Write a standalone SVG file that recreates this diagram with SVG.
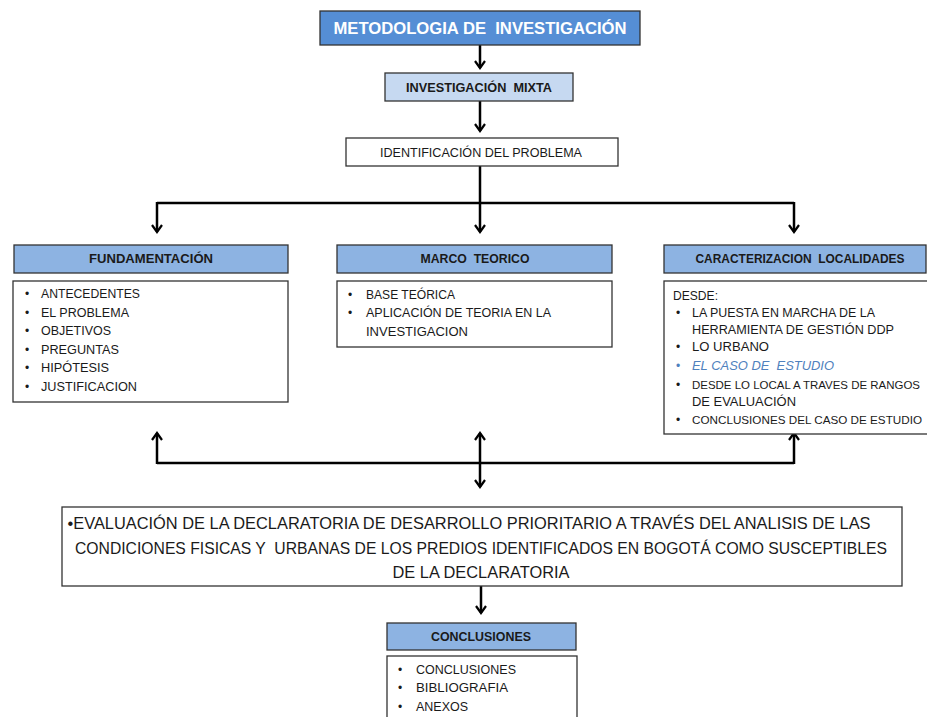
<svg xmlns="http://www.w3.org/2000/svg" width="927" height="717" viewBox="0 0 927 717">
<defs>
<marker id="ah" viewBox="0 0 12 12" refX="10" refY="6" markerWidth="12" markerHeight="12" markerUnits="userSpaceOnUse" orient="auto">
<path d="M3,1 L10,6 L3,11" fill="none" stroke="#000" stroke-width="2.2"/>
</marker>
<style>
text{font-family:"Liberation Sans",Arial,sans-serif;fill:#1a1a1a}
.box{fill:#fff;stroke:#333;stroke-width:1.3}
.hd{fill:#8db3e2;stroke:#333;stroke-width:1.3}
.hdt{font-size:12px;font-weight:bold;text-anchor:middle}
.li{font-size:12px}
.c{stroke:#000;stroke-width:2.5;fill:none}
.ca{stroke:#000;stroke-width:2.5;fill:none;marker-end:url(#ah)}
</style>
</defs>
<g id="connectors">
<line class="ca" x1="480" y1="45" x2="480" y2="68"/>
<line class="ca" x1="480" y1="101" x2="480" y2="131"/>
<polyline class="c" points="480,166 480,203"/>
<polyline class="c" points="157,203 794,203"/>
<line class="ca" x1="157" y1="202" x2="157" y2="232"/>
<line class="ca" x1="480" y1="202" x2="480" y2="232"/>
<line class="ca" x1="794" y1="202" x2="794" y2="232"/>
<polyline class="c" points="157,463 794,463"/>
<line class="ca" x1="157" y1="464" x2="157" y2="433"/>
<line class="ca" x1="794" y1="464" x2="794" y2="433"/>
<line class="ca" x1="480" y1="460" x2="480" y2="433"/>
<line class="ca" x1="480" y1="460" x2="480" y2="487"/>
<line class="ca" x1="481" y1="586" x2="481" y2="613"/>
</g>
<g id="metodologia">
<rect x="320" y="11" width="320" height="34" fill="#558ed5" stroke="#333" stroke-width="1.3"/>
<text x="480" y="34" text-anchor="middle" font-size="17" font-weight="bold" style="fill:#fff" textLength="293" lengthAdjust="spacingAndGlyphs" xml:space="preserve">METODOLOGIA DE  INVESTIGACIÓN</text>
</g>
<g id="mixta">
<rect x="385" y="73" width="188" height="28" fill="#c6d9f1" stroke="#333" stroke-width="1.3"/>
<text x="479" y="92" class="hdt" textLength="146" lengthAdjust="spacingAndGlyphs" xml:space="preserve">INVESTIGACIÓN  MIXTA</text>
</g>
<g id="identificacion">
<rect class="box" x="346" y="138" width="272" height="28"/>
<text x="481" y="157" text-anchor="middle" class="li" textLength="202" lengthAdjust="spacingAndGlyphs">IDENTIFICACIÓN DEL PROBLEMA</text>
</g>
<g id="fundamentacion">
<rect class="hd" x="14" y="245" width="274" height="28"/>
<text x="151" y="263" class="hdt" textLength="124" lengthAdjust="spacingAndGlyphs">FUNDAMENTACIÓN</text>
<rect class="box" x="13" y="281" width="275" height="121"/>
<g class="li">
<text x="25" y="298">•</text><text x="41" y="298" textLength="99" lengthAdjust="spacingAndGlyphs">ANTECEDENTES</text>
<text x="25" y="317">•</text><text x="41" y="317" textLength="88" lengthAdjust="spacingAndGlyphs">EL PROBLEMA</text>
<text x="25" y="335">•</text><text x="41" y="335" textLength="70" lengthAdjust="spacingAndGlyphs">OBJETIVOS</text>
<text x="25" y="354">•</text><text x="41" y="354" textLength="78" lengthAdjust="spacingAndGlyphs">PREGUNTAS</text>
<text x="25" y="372">•</text><text x="41" y="372" textLength="68" lengthAdjust="spacingAndGlyphs">HIPÓTESIS</text>
<text x="25" y="391">•</text><text x="41" y="391" textLength="96" lengthAdjust="spacingAndGlyphs">JUSTIFICACION</text>
</g>
</g>
<g id="marco">
<rect class="hd" x="337" y="245" width="275" height="28"/>
<text x="475" y="263" class="hdt" textLength="109" lengthAdjust="spacingAndGlyphs" xml:space="preserve">MARCO  TEORICO</text>
<rect class="box" x="337" y="281" width="275" height="66"/>
<g class="li">
<text x="348" y="299">•</text><text x="366" y="299" textLength="89" lengthAdjust="spacingAndGlyphs">BASE TEÓRICA</text>
<text x="348" y="317">•</text><text x="366" y="317" textLength="185" lengthAdjust="spacingAndGlyphs">APLICACIÓN DE TEORIA EN LA</text>
<text x="366" y="336" textLength="102" lengthAdjust="spacingAndGlyphs">INVESTIGACION</text>
</g>
</g>
<g id="caracterizacion">
<rect class="hd" x="664" y="245" width="262" height="28"/>
<text x="800" y="263" class="hdt" textLength="209" lengthAdjust="spacingAndGlyphs" xml:space="preserve">CARACTERIZACION  LOCALIDADES</text>
<rect class="box" x="664" y="281" width="275" height="153"/>
<g class="li">
<text x="673" y="300" textLength="45" lengthAdjust="spacingAndGlyphs">DESDE:</text>
<text x="676" y="317">•</text><text x="692" y="317" textLength="183" lengthAdjust="spacingAndGlyphs">LA PUESTA EN MARCHA DE LA</text>
<text x="692" y="334" textLength="202" lengthAdjust="spacingAndGlyphs">HERRAMIENTA DE GESTIÓN DDP</text>
<text x="676" y="351">•</text><text x="692" y="351" textLength="77" lengthAdjust="spacingAndGlyphs">LO URBANO</text>
<text x="676" y="370" style="fill:#4f81bd">•</text><text x="692" y="370" font-style="italic" style="fill:#4f81bd" textLength="142" lengthAdjust="spacingAndGlyphs" xml:space="preserve">EL CASO DE  ESTUDIO</text>
<text x="676" y="389">•</text><text x="692" y="389" font-size="11" textLength="228" lengthAdjust="spacingAndGlyphs">DESDE LO LOCAL A TRAVES DE RANGOS</text>
<text x="692" y="406" textLength="104" lengthAdjust="spacingAndGlyphs">DE EVALUACIÓN</text>
<text x="676" y="424">•</text><text x="692" y="424" font-size="11" textLength="230" lengthAdjust="spacingAndGlyphs">CONCLUSIONES DEL CASO DE ESTUDIO</text>
</g>
</g>
<g id="evaluacion">
<rect class="box" x="62" y="507" width="840" height="79"/>
<g font-size="16.5" text-anchor="middle">
<text x="469" y="529" textLength="803" lengthAdjust="spacingAndGlyphs">•EVALUACIÓN DE LA DECLARATORIA DE DESARROLLO PRIORITARIO A TRAVÉS DEL ANALISIS DE LAS</text>
<text x="481" y="554" textLength="812" lengthAdjust="spacingAndGlyphs" xml:space="preserve">CONDICIONES FISICAS Y  URBANAS DE LOS PREDIOS IDENTIFICADOS EN BOGOTÁ COMO SUSCEPTIBLES</text>
<text x="481" y="578" textLength="177" lengthAdjust="spacingAndGlyphs">DE LA DECLARATORIA</text>
</g>
</g>
<g id="conclusiones">
<rect class="hd" x="387" y="623" width="189" height="27"/>
<text x="481" y="641" class="hdt" textLength="100" lengthAdjust="spacingAndGlyphs">CONCLUSIONES</text>
<rect class="box" x="387" y="656" width="190" height="70"/>
<g class="li">
<text x="398" y="674">•</text><text x="416" y="674" textLength="100" lengthAdjust="spacingAndGlyphs">CONCLUSIONES</text>
<text x="398" y="692">•</text><text x="416" y="692" textLength="92" lengthAdjust="spacingAndGlyphs">BIBLIOGRAFIA</text>
<text x="398" y="711">•</text><text x="416" y="711" textLength="52" lengthAdjust="spacingAndGlyphs">ANEXOS</text>
</g>
</g>
</svg>
